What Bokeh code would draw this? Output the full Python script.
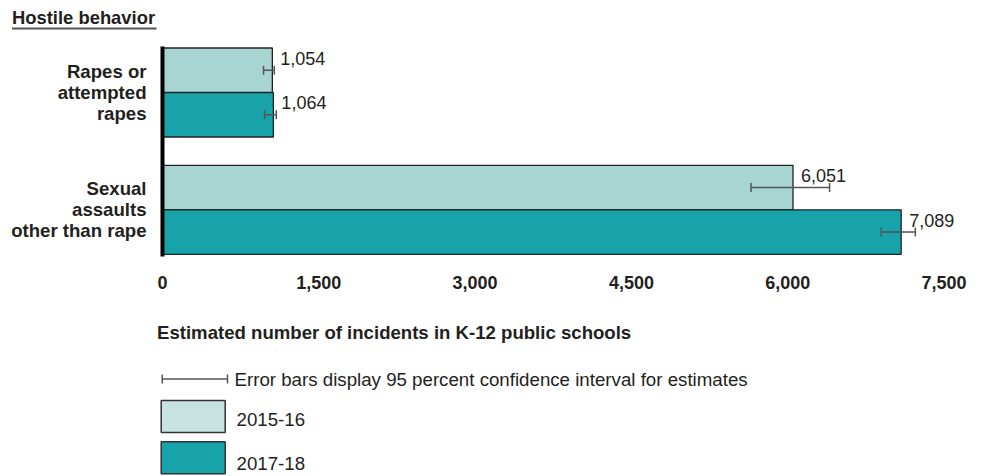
from bokeh.plotting import figure
from bokeh.models import ColumnDataSource, Range1d, FixedTicker, NumeralTickFormatter, Whisker, TeeHead
from bokeh.core.properties import value
from bokeh.embed import file_html
from bokeh.resources import INLINE

# ---------------- data ----------------
section_title = "Hostile behavior"
categories = ["Rapes or\nattempted\nrapes", "Sexual\nassaults\nother than rape"]
years = ["2015-16", "2017-18"]
values_2015 = [1054, 6051]
values_2017 = [1064, 7089]
lower_2015 = [970, 5648]
upper_2015 = [1073, 6402]
lower_2017 = [980, 6898]
upper_2017 = [1092, 7225]
x_ticks = [0, 1500, 3000, 4500, 6000, 7500]
x_title = "Estimated number of incidents in K-12 public schools"
errorbar_note = "Error bars display 95 percent confidence interval for estimates"

# ---------------- style ----------------
FONT = "Liberation Sans"
TEXT = "#231f20"
C15 = "#A8D4D2"
C15_SWATCH = "#C6E3E2"
C17 = "#17A3A9"
EB = "#555555"
BAR_OFF = 0.19
BAR_H = 0.379
W, H = 988, 476

# chart region: value 0 sits 162px from the left edge, 0.1042 px per incident;
# category centres 117.3px apart, first one 92px from the top
PX_PER_X = 0.1042
PX_PER_Y = 117.3
x0_px, y0_px = 162, 92
x_range = Range1d(-x0_px / PX_PER_X, (W - x0_px) / PX_PER_X)
y_range = Range1d((H - y0_px) / PX_PER_Y, -y0_px / PX_PER_Y)
y_top, y_bot = -0.392, 1.398   # extent of the chart band (category units)

p = figure(width=W, height=H, x_range=x_range, y_range=y_range,
           output_backend="svg", toolbar_location=None, min_border=0)
p.extra_x_ranges = {"px": Range1d(0, W)}
p.extra_y_ranges = {"px": Range1d(H, 0)}
p.outline_line_color = None
p.grid.visible = False
p.background_fill_color = "white"
p.border_fill_color = "white"

# ---------------- bars ----------------
idx = list(range(len(categories)))
src = ColumnDataSource(dict(
    y15=[i - BAR_OFF for i in idx], y17=[i + BAR_OFF for i in idx],
    v15=values_2015, v17=values_2017,
    lo15=lower_2015, hi15=upper_2015, lo17=lower_2017, hi17=upper_2017,
    lab15=[f"{v:,}" for v in values_2015], lab17=[f"{v:,}" for v in values_2017],
))

p.hbar(y="y15", left=0, right="v15", height=BAR_H, fill_color=C15, line_color="#222222",
       line_width=1.3, source=src)
p.hbar(y="y17", left=0, right="v17", height=BAR_H, fill_color=C17, line_color="#222222",
       line_width=1.3, source=src)

def tee():
    return TeeHead(size=9, line_color=EB, line_width=1.5)

for yb, lo, hi in (("y15", "lo15", "hi15"), ("y17", "lo17", "hi17")):
    p.add_layout(Whisker(base=yb, lower=lo, upper=hi, dimension="width", source=src,
                         line_color=EB, line_width=1.5, level="overlay",
                         lower_head=tee(), upper_head=tee()))

for yb, v, lab in (("y15", "v15", "lab15"), ("y17", "v17", "lab17")):
    p.text(x=v, y=yb, text=lab, x_offset=8, y_offset=-12, text_baseline="middle",
           text_font=value(FONT), text_font_size="18px", text_color=TEXT, source=src)

# ---------------- axes ----------------
xa = p.xaxis[0]
xa.fixed_location = y_bot
xa.ticker = FixedTicker(ticks=x_ticks)
xa.formatter = NumeralTickFormatter(format="0,0")
xa.axis_line_color = None
xa.major_tick_line_color = None
xa.minor_tick_line_color = None
xa.major_label_standoff = 14
xa.major_label_text_font = FONT
xa.major_label_text_font_size = "18px"
xa.major_label_text_font_style = "bold"
xa.major_label_text_color = TEXT

ya = p.yaxis[0]
ya.fixed_location = 0
ya.bounds = (y_top, y_bot)
ya.ticker = FixedTicker(ticks=idx)
ya.major_label_overrides = {i: c for i, c in zip(idx, categories)}
ya.axis_line_color = "black"
ya.axis_line_width = 4
ya.major_tick_line_color = None
ya.minor_tick_line_color = None
ya.major_label_standoff = 10
ya.major_label_text_font = FONT
ya.major_label_text_font_size = "18.6px"
ya.major_label_text_font_style = "bold"
ya.major_label_text_color = TEXT
ya.major_label_text_line_height = 1.0

# ---------------- header (pixel layer) ----------------
px = dict(x_range_name="px", y_range_name="px")
p.text(x=[11.5], y=[16.5], text=[section_title], text_font=value(FONT), text_font_size="18.4px",
       text_font_style="bold", text_baseline="middle", text_color=TEXT, **px)
p.segment(x0=[11.5], y0=[28], x1=[156], y1=[28], line_color="#555555", line_width=2, **px)

# ---------------- axis title + legend (pixel layer) ----------------
p.text(x=[156.5], y=[332], text=[x_title], text_font=value(FONT), text_font_size="18.6px",
       text_font_style="bold", text_baseline="middle", text_color=TEXT, **px)

lsrc = ColumnDataSource(dict(base=[378.5], lo=[161.7], hi=[227]))
p.add_layout(Whisker(base="base", lower="lo", upper="hi", dimension="width", source=lsrc,
                     line_color=EB, line_width=1.5, level="overlay",
                     lower_head=tee(), upper_head=tee(), **px))
p.text(x=[234], y=[378.5], text=[errorbar_note], text_font=value(FONT), text_font_size="18.7px",
       text_baseline="middle", text_color=TEXT, **px)

p.rect(x=[192.7, 192.7], y=[416, 457.3], width=[64, 64], height=[32, 32],
       fill_color=[C15_SWATCH, C17], line_color="#333333", line_width=1.5, **px)
p.text(x=[236, 236], y=[419, 463], text=years, text_font=value(FONT), text_font_size="18.7px",
       text_baseline="middle", text_color=TEXT, **px)

open("out.html", "w").write(file_html(p, INLINE))
